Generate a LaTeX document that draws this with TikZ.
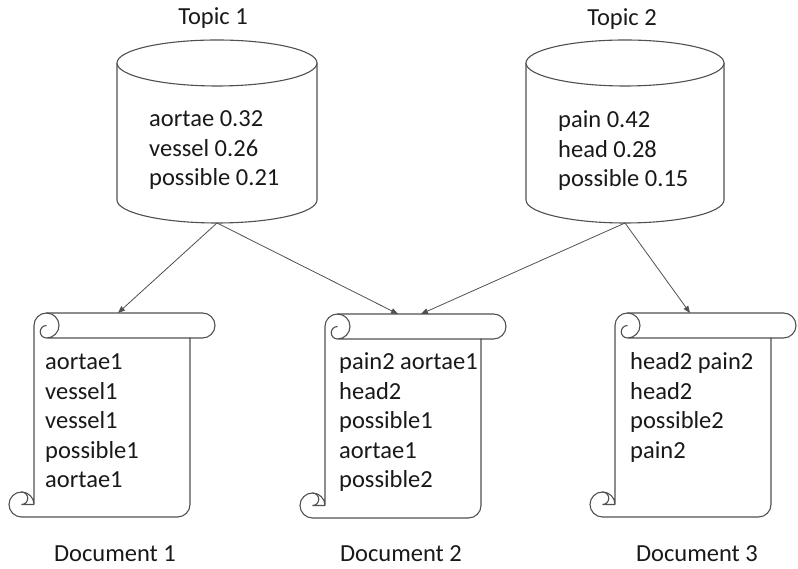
\documentclass[tikz,border=0pt]{standalone}
\usepackage{fontspec}
\setmainfont{Carlito}
\usetikzlibrary{arrows.meta}

\definecolor{inkgray}{RGB}{25,25,25}
\definecolor{edgegray}{RGB}{80,80,80}

\tikzset{
  shapeline/.style={draw=edgegray, line width=1.1pt, fill=white},
  detailline/.style={draw=edgegray, line width=1.1pt},
  wordlist/.style={anchor=base west, inner sep=0pt, align=left, text=inkgray,
    font=\fontsize{24.5}{29.5}\selectfont},
  caption/.style={anchor=base, inner sep=0pt, text=inkgray,
    font=\fontsize{24.5}{29}\selectfont},
  link/.style={draw=edgegray, line width=0.8pt, -{Triangle[length=7pt,width=5.5pt]}},
  pics/scroll/.style={code={
    % outline of the sheet with both rolls
    \draw[shapeline] (25,12.5) -- (25,191.5) arc[start angle=180, end angle=90, radius=12.5pt]
      -- (193.5,204) arc[start angle=90, end angle=-90, radius=12.5pt]
      -- (181,179) -- (181,12.5) arc[start angle=0, end angle=-90, radius=12.5pt]
      -- (12.5,0) arc[start angle=-90, end angle=-270, radius=12.5pt]
      arc[start angle=90, end angle=0, radius=12.5pt] -- cycle;
    % curls
    \draw[detailline] (37.5,204) arc[start angle=90, end angle=-90, radius=12.5pt] -- (181,179);
    \draw[detailline] (37.5,191.5) arc[start angle=90, end angle=270, radius=6.25pt];
    \draw[detailline] (12.5,25) arc[start angle=90, end angle=-90, radius=6.25pt] -- (25,12.5);
  }}
}

\begin{document}
\begin{tikzpicture}[x=1pt, y=1pt]
  \useasboundingbox (0,0) rectangle (798,569);

  % topics as cylinders
  \draw[shapeline] (117,506) -- (117,369) arc[start angle=180, end angle=360, x radius=100pt, y radius=23pt] -- (317,506);
  \draw[shapeline] (217,506) ellipse[x radius=100pt, y radius=23pt];
  \draw[shapeline] (526,506) -- (526,369) arc[start angle=180, end angle=360, x radius=99pt, y radius=23pt] -- (724,506);
  \draw[shapeline] (625,506) ellipse[x radius=99pt, y radius=23pt];

  \node[caption] (topicA) at (213,544) {Topic 1};
  \node[caption] (topicB) at (622,543) {Topic 2};

  % base anchor sits on the last line
  \node[wordlist] (wordsA) at (149,383) {aortae 0.32\\vessel 0.26\\possible 0.21};
  \node[wordlist] (wordsB) at (558,382) {pain 0.42\\head 0.28\\possible 0.15};

  \coordinate (outA) at (217,346);
  \coordinate (outB) at (625,346);

  % documents as scrolls
  \pic (docA) at (9,52) {scroll};
  \pic (docB) at (300,51) {scroll};
  \pic (docC) at (590,52) {scroll};

  \node[wordlist] (textA) at (45,81) {aortae1\\vessel1\\vessel1\\possible1\\aortae1};
  \node[wordlist] (textB) at (339,81) {pain2 aortae1\\head2\\possible1\\aortae1\\possible2};
  \node[wordlist] (textC) at (630,110.5) {head2 pain2\\head2\\possible2\\pain2};

  \node[caption] (labelA) at (115,7) {Document 1};
  \node[caption] (labelB) at (401,7) {Document 2};
  \node[caption] (labelC) at (697,7) {Document 3};

  \coordinate (inA) at (118,256);
  \coordinate (inB1) at (398,255);
  \coordinate (inB2) at (421,255);
  \coordinate (inC) at (690,256);

  \draw[link] (outA) -- (inA);
  \draw[link] (outA) -- (inB1);
  \draw[link] (outB) -- (inB2);
  \draw[link] (outB) -- (inC);
\end{tikzpicture}
\end{document}
